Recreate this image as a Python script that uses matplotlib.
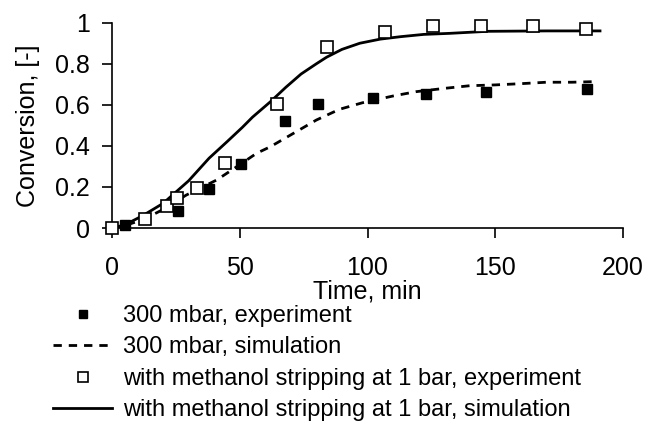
import matplotlib
matplotlib.use("Agg")
import matplotlib.pyplot as plt

plt.rcParams["font.family"] = ["Liberation Sans", "DejaVu Sans"]

# 300 mbar run
exp300_t = [5.1, 25.9, 38.1, 50.4, 67.7, 80.5, 102.2, 122.8, 146.3, 186.0]
exp300_x = [0.015, 0.084, 0.188, 0.31, 0.523, 0.602, 0.632, 0.653, 0.661, 0.677]
sim300_t = [0, 5, 12, 20, 29, 41, 49, 56.6, 62, 71, 80, 89, 98, 110, 119, 130,
            140, 150, 160, 170, 180, 189]
sim300_x = [0, 0.012, 0.04, 0.09, 0.16, 0.234, 0.30, 0.364, 0.396, 0.461, 0.526,
            0.578, 0.61, 0.643, 0.664, 0.68, 0.693, 0.697, 0.703, 0.71, 0.71, 0.713]

# methanol stripping at 1 bar
strip_t = [0, 12.9, 21.6, 25.3, 33.1, 44.2, 64.4, 84.0, 106.8, 125.7, 144.6, 164.6, 185.4]
strip_x = [0, 0.042, 0.107, 0.145, 0.193, 0.318, 0.602, 0.883, 0.953, 0.984, 0.984,
           0.984, 0.969]
simstrip_t = [0, 5, 12, 20, 25, 30, 38, 45, 51, 55, 62, 68, 74, 80, 84, 90, 97,
              105, 113, 122, 132, 147, 170, 191]
simstrip_x = [0, 0.015, 0.06, 0.12, 0.175, 0.23, 0.34, 0.42, 0.49, 0.54, 0.615,
              0.685, 0.75, 0.80, 0.832, 0.87, 0.90, 0.92, 0.932, 0.943, 0.948,
              0.958, 0.96, 0.96]

fig = plt.figure(figsize=(6.48, 4.25), dpi=100)
ax = fig.add_axes([112 / 648, 1 - 228 / 425, 511 / 648, 205.3 / 425])

h1, = ax.plot(exp300_t, exp300_x, "s", color="black", ms=6.5, ls="none",
              label="300 mbar, experiment", zorder=4, clip_on=False)
h2, = ax.plot(sim300_t, sim300_x, color="black", lw=2.0, ls=(0, (3, 2.5)),
              label="300 mbar, simulation", zorder=3)
h3, = ax.plot(strip_t, strip_x, "s", mfc="white", mec="black", mew=1.2, ms=8,
              ls="none", label="with methanol stripping at 1 bar, experiment",
              zorder=5, clip_on=False)
h4, = ax.plot(simstrip_t, simstrip_x, color="black", lw=2.0,
              label="with methanol stripping at 1 bar, simulation", zorder=3)

ax.set_xlim(0, 200)
ax.set_ylim(0, 1)
ax.set_xticks([0, 50, 100, 150, 200])
ax.set_yticks([0, 0.2, 0.4, 0.6, 0.8, 1])
ax.set_yticklabels(["0", "0.2", "0.4", "0.6", "0.8", "1"])
for side in ("top", "right"):
    ax.spines[side].set_visible(False)
for side in ("left", "bottom"):
    ax.spines[side].set_linewidth(1.2)
ax.tick_params(length=7, width=1.2, labelsize=18)
ax.tick_params(axis="x", pad=13)
ax.tick_params(axis="y", pad=9)
ax.set_xlabel("Time, min", fontsize=18, labelpad=0)
ax.set_ylabel("Conversion, [-]", fontsize=18, labelpad=11)

fig.legend(handles=[h1, h2, h3, h4], loc="upper left",
           bbox_to_anchor=(53 / 648, 1 - 305 / 425), frameon=False,
           fontsize=17, handlelength=2.5, handletextpad=0.45,
           labelspacing=0.4, borderpad=0, borderaxespad=0, markerscale=0.9)

fig.savefig("out.png", dpi=100)
